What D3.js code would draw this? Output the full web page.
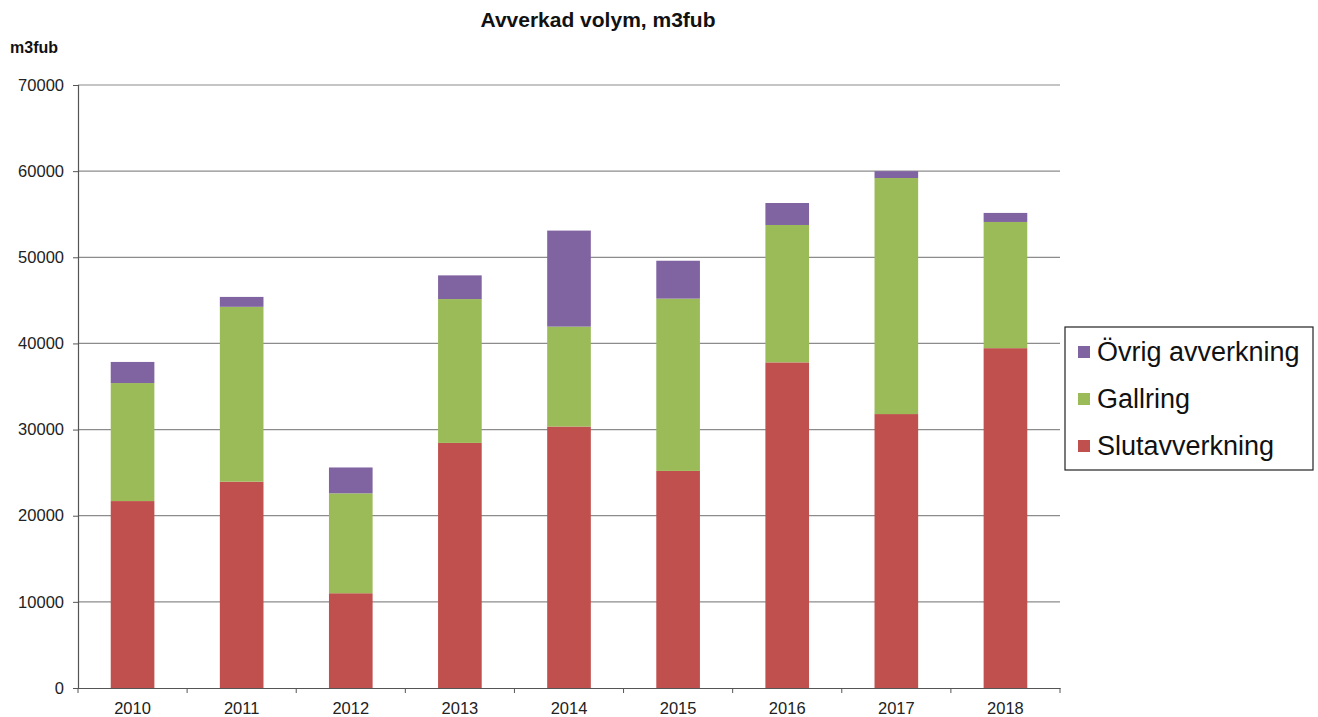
<!DOCTYPE html>
<html><head><meta charset="utf-8">
<script src="https://cdn.jsdelivr.net/npm/d3@7"></script>
<style>body{margin:0;background:#fff;} text{font-family:"Liberation Sans",Arial,sans-serif;}</style>
</head><body><svg id="c" width="1318" height="717"></svg>
<script>
const years = ["2010","2011","2012","2013","2014","2015","2016","2017","2018"];
const slutavverkning = [21700, 23950, 11000, 28450, 30350, 25200, 37800, 31800, 39450];
const gallring       = [13700, 20300, 11600, 16700, 11600, 20000, 15950, 27400, 14650];
const ovrig          = [2450, 1150, 3000, 2750, 11150, 4400, 2550, 800, 1050];
const yTicks = [0,10000,20000,30000,40000,50000,60000,70000];
const seriesNames = ["Slutavverkning","Gallring","Övrig avverkning"];
const colors = {"Slutavverkning":"#C0504D","Gallring":"#9BBB59","Övrig avverkning":"#8064A2"};

const svg = d3.select("#c");
const m = {l:78, r:1060, t:85, b:688};
const x = d3.scaleBand().domain(years).range([m.l,m.r]).paddingInner(0.6).paddingOuter(0.3);
const y = d3.scaleLinear().domain([0,70000]).range([m.b,m.t]);

const rows = years.map((yr,i)=>({year:yr,"Slutavverkning":slutavverkning[i],"Gallring":gallring[i],"Övrig avverkning":ovrig[i]}));
const stack = d3.stack().keys(seriesNames)(rows);

// gridlines
svg.append("g").selectAll("line").data(yTicks.filter(d=>d>0)).join("line")
  .attr("x1",m.l).attr("x2",m.r).attr("y1",d=>y(d)).attr("y2",d=>y(d))
  .attr("stroke","#8c8c8c").attr("stroke-width",1.2);

// bars
svg.append("g").selectAll("g").data(stack).join("g").attr("fill",d=>colors[d.key])
  .selectAll("rect").data(d=>d).join("rect")
  .attr("x",d=>x(d.data.year)).attr("width",x.bandwidth())
  .attr("y",d=>y(d[1])).attr("height",d=>y(d[0])-y(d[1]));

// y axis
const ya = svg.append("g").attr("transform",`translate(${m.l},0)`)
  .call(d3.axisLeft(y).tickValues(yTicks).tickFormat(d3.format("d")).tickSize(5).tickPadding(9));
ya.select(".domain").attr("stroke","#555").attr("stroke-width",1.2);
ya.selectAll(".tick line").attr("stroke","#555");
ya.selectAll("text").attr("font-size",16.5).attr("fill","#222").style("font-family","Liberation Sans, Arial");

// x axis
const xa = svg.append("g").attr("transform",`translate(0,${m.b})`)
  .call(d3.axisBottom(x).tickSize(0).tickPadding(14));
xa.select(".domain").attr("stroke","#555").attr("stroke-width",1.2);
xa.selectAll("text").attr("font-size",16.5).attr("fill","#222").style("font-family","Liberation Sans, Arial");
const step = x.step();
const bounds = d3.range(years.length+1).map(i=>m.l + i*step);
svg.append("g").selectAll("line").data(bounds).join("line")
  .attr("x1",d=>d).attr("x2",d=>d).attr("y1",m.b).attr("y2",m.b+5).attr("stroke","#555");

// title
svg.append("text").attr("x",598).attr("y",27).attr("text-anchor","middle")
  .attr("font-size",21).attr("font-weight","bold").attr("fill","#111").text("Avverkad volym, m3fub");
svg.append("text").attr("x",10).attr("y",53).attr("font-size",16).attr("font-weight","bold").attr("fill","#111").text("m3fub");

// legend
const lg = svg.append("g");
lg.append("rect").attr("x",1065).attr("y",327).attr("width",248).attr("height",143)
  .attr("fill","#fff").attr("stroke","#222").attr("stroke-width",1.2);
const legendItems = ["Övrig avverkning","Gallring","Slutavverkning"];
legendItems.forEach((k,i)=>{
  const cy = 352 + i*47;
  lg.append("rect").attr("x",1078).attr("y",cy-6).attr("width",12).attr("height",12).attr("fill",colors[k]);
  lg.append("text").attr("x",1097).attr("y",cy+9).attr("font-size",27).attr("fill","#111").text(k);
});
</script></body></html>
